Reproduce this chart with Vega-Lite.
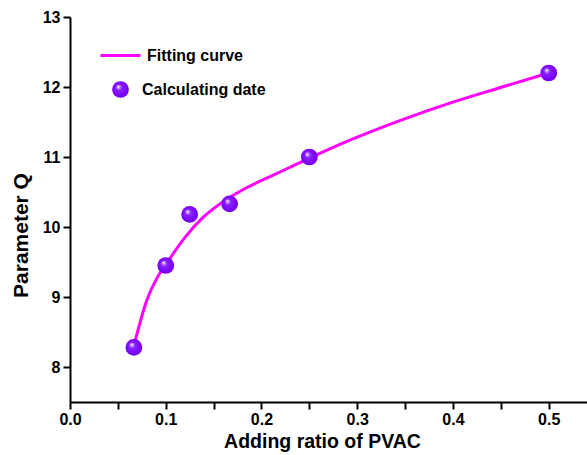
{
  "$schema": "https://vega.github.io/schema/vega-lite/v6.json",
  "width": 517,
  "height": 385,
  "autosize": {"type": "none"},
  "padding": {"left": 70, "top": 17, "right": 0, "bottom": 53},
  "background": "white",
  "config": {
    "view": {"stroke": null},
    "font": "Liberation Sans",
    "axis": {
      "domainColor": "black", "domainWidth": 2,
      "tickColor": "black", "tickWidth": 2,
      "labelFont": "Liberation Sans", "labelFontWeight": "bold", "labelFontSize": 16, "labelColor": "black",
      "titleFont": "Liberation Sans", "titleFontWeight": "bold", "titleColor": "black",
      "grid": false
    },
    "legend": {
      "labelFont": "Liberation Sans", "labelFontWeight": "bold", "labelFontSize": 16, "labelColor": "black",
      "padding": 0
    }
  },
  "datasets": {
    "curve": [
      {"ratio": 0.0667, "Q": 8.30},
      {"ratio": 0.0804, "Q": 8.96},
      {"ratio": 0.0908, "Q": 9.27},
      {"ratio": 0.1, "Q": 9.46},
      {"ratio": 0.1078, "Q": 9.62},
      {"ratio": 0.1218, "Q": 9.88},
      {"ratio": 0.1392, "Q": 10.14},
      {"ratio": 0.1566, "Q": 10.33},
      {"ratio": 0.1844, "Q": 10.56},
      {"ratio": 0.2122, "Q": 10.74},
      {"ratio": 0.2401, "Q": 10.92},
      {"ratio": 0.2923, "Q": 11.24},
      {"ratio": 0.3445, "Q": 11.52},
      {"ratio": 0.3967, "Q": 11.77},
      {"ratio": 0.4489, "Q": 11.99},
      {"ratio": 0.5, "Q": 12.2}
    ],
    "points": [
      {"ratio": 0.0667, "Q": 8.28},
      {"ratio": 0.1, "Q": 9.45},
      {"ratio": 0.125, "Q": 10.18},
      {"ratio": 0.1667, "Q": 10.33},
      {"ratio": 0.25, "Q": 11.0},
      {"ratio": 0.5, "Q": 12.2}
    ]
  },
  "layer": [
    {
      "mark": {"type": "rule", "color": "black", "strokeWidth": 2},
      "encoding": {"y": {"datum": 13, "type": "quantitative"}}
    },
    {
      "data": {"name": "curve"},
      "mark": {"type": "line", "strokeWidth": 3, "interpolate": "monotone"},
      "encoding": {
        "x": {
          "field": "ratio", "type": "quantitative",
          "scale": {"domain": [0, 0.54], "nice": false, "zero": false},
          "axis": {
            "title": "Adding ratio of PVAC",
            "titleFontSize": 19.5,
            "titleX": 252, "titleY": 39, "titleBaseline": "middle", "titleAnchor": "middle",
            "values": [0, 0.05, 0.1, 0.15, 0.2, 0.25, 0.3, 0.35, 0.4, 0.45, 0.5],
            "labelExpr": "round(datum.value*20)%2===1 ? '' : format(datum.value, '.1f')",
            "tickSize": 7,
            "labelPadding": 2,
            "labelFlush": false,
            "encode": {
              "ticks": {"update": {"y2": {"signal": "round(datum.value*20)%2===1 ? -4 : -7"}}}
            }
          }
        },
        "y": {
          "field": "Q", "type": "quantitative",
          "scale": {"domain": [7.5, 13], "nice": false, "zero": false},
          "axis": {
            "title": "Parameter Q",
            "titleFontSize": 21,
            "titleX": -49, "titleY": 218, "titleAngle": 270, "titleAlign": "center", "titleBaseline": "middle",
            "values": [8, 8.5, 9, 9.5, 10, 10.5, 11, 11.5, 12, 12.5, 13],
            "labelExpr": "round(datum.value*2)%2===1 ? '' : format(datum.value, 'd')",
            "tickSize": 7,
            "labelPadding": 3,
            "labelFlush": false,
            "encode": {
              "ticks": {"update": {"x2": {"signal": "round(datum.value*2)%2===1 ? 4 : 7"}}}
            }
          }
        },
        "color": {
          "datum": "Fitting curve",
          "scale": {"domain": ["Fitting curve"], "range": ["#ff00ff"]},
          "legend": {
            "title": null, "orient": "none", "legendX": 29, "legendY": 17,
            "symbolType": "stroke", "symbolSize": 1600, "symbolStrokeWidth": 3,
            "labelOffset": 5
          }
        }
      }
    },
    {
      "data": {"name": "points"},
      "mark": {
        "type": "point", "filled": true, "size": 280, "opacity": 1, "strokeWidth": 0,
        "fill": {
          "gradient": "radial", "x1": 0.36, "y1": 0.32, "r1": 0, "x2": 0.5, "y2": 0.5, "r2": 0.55,
          "stops": [
            {"offset": 0, "color": "#faf6ff"},
            {"offset": 0.1, "color": "#d8bcff"},
            {"offset": 0.32, "color": "#8a20ff"},
            {"offset": 0.8, "color": "#7a00f6"},
            {"offset": 1, "color": "#6600d8"}
          ]
        }
      },
      "encoding": {
        "x": {"field": "ratio", "type": "quantitative"},
        "y": {"field": "Q", "type": "quantitative"},
        "shape": {
          "datum": "Calculating date",
          "scale": {"domain": ["Calculating date"], "range": ["circle"]},
          "legend": {
            "title": null, "orient": "none", "legendX": 41, "legendY": 63,
            "symbolSize": 280, "labelOffset": 12,
            "encode": {
              "symbols": {
                "update": {
                  "fill": {"value": {
                    "gradient": "radial", "x1": 0.36, "y1": 0.32, "r1": 0, "x2": 0.5, "y2": 0.5, "r2": 0.55,
                    "stops": [
                      {"offset": 0, "color": "#faf6ff"},
                      {"offset": 0.1, "color": "#d8bcff"},
                      {"offset": 0.32, "color": "#8a20ff"},
                      {"offset": 0.8, "color": "#7a00f6"},
                      {"offset": 1, "color": "#6600d8"}
                    ]
                  }},
                  "stroke": {"value": "transparent"},
                  "opacity": {"value": 1}
                }
              }
            }
          }
        }
      }
    }
  ]
}
